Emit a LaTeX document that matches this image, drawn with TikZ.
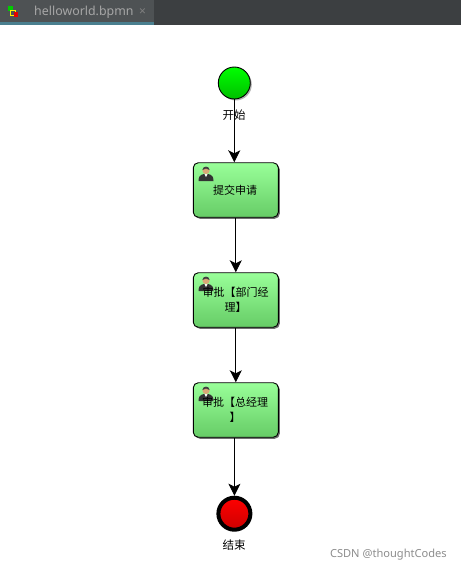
\documentclass[tikz,border=0pt]{standalone}
\usepackage{fontspec}
\setmainfont{Noto Sans CJK SC}
\newfontfamily\tabfont{Noto Sans}
\usetikzlibrary{positioning,arrows.meta,shadows}
\definecolor{tabdark}{HTML}{3C3F41}
\definecolor{tablight}{HTML}{4E5254}
\definecolor{tabline}{HTML}{4A7F8F}
\definecolor{tasktop}{HTML}{99FF99}
\definecolor{taskbot}{HTML}{66CC66}
\tikzset{
  flow/.style={draw=black,line width=0.9pt,-{Stealth[length=12pt,width=12pt,inset=3pt]}},
  taskbox/.style={draw=black,line width=0.9pt,rounded corners=5pt,minimum width=85pt,minimum height=54.5pt,
    top color=tasktop,bottom color=taskbot,inner sep=0pt,
    drop shadow={shadow xshift=1.5pt,shadow yshift=-1.5pt,fill=black!70,opacity=0.8}},
  tasklabel/.style={font=\fontsize{11}{15}\selectfont,align=center,inner sep=0pt},
  evlabel/.style={font=\fontsize{11.5}{13}\selectfont,inner sep=0pt},
}
\begin{document}
\begin{tikzpicture}[x=1pt,y=-1pt]
\useasboundingbox (0,0) rectangle (461,571);
% tab bar
\fill[tabdark] (0,0) rectangle (461,25);
\fill[tablight] (0,0) rectangle (154,22);
\fill[tabline] (0,22) rectangle (154,25);
\fill[green!80!black] (8,6) rectangle (13,11);
\draw[yellow,line width=0.8pt] (10.5,10) rectangle (15,15);
\fill[red!90!black] (14,12) rectangle (18,17);
\node[text=black!35,font=\tabfont\fontsize{12.4}{15}\selectfont,anchor=west,inner sep=0pt] (tabname) at (34,12) {helloworld.bpmn};
\node[text=black!50,font=\tabfont\fontsize{12}{14}\selectfont,inner sep=0pt] (tabclose) at (142.5,12) {×};
% events
\node[circle,draw=black,line width=0.9pt,minimum size=32pt,inner sep=0pt,top color=green,bottom color=green!75!black,
  drop shadow={shadow xshift=1.5pt,shadow yshift=-1.5pt,fill=black!60}] (start) at (234.3,83) {};
\node[circle,draw=black,line width=4pt,minimum size=32pt,inner sep=0pt,top color=red,bottom color=red!80!black] (end) at (234.4,513.7) {};
% tasks
\node[taskbox] (taskone) at (235.8,190) {};
\node[taskbox] (tasktwo) at (235.8,300) {};
\node[taskbox] (taskthree) at (235.8,410) {};
% user icons
\foreach \yy in {162,272,382}
  {\fill[black!80] (198.5,\yy+19) .. controls (198.5,\yy+12) and (203,\yy+12) .. (206,\yy+12)
     .. controls (209,\yy+12) and (213.5,\yy+12) .. (213.5,\yy+19) -- cycle;
   \fill[white] (204.5,\yy+12) -- (207.5,\yy+12) -- (206,\yy+15) -- cycle;
   \fill[orange!45!white!85!black] (206,\yy+8.5) circle (3.6);
   \fill[black!75] (202.4,\yy+8) .. controls (202.4,\yy+3.5) and (209.6,\yy+3.5) .. (209.6,\yy+8)
     .. controls (207,\yy+6) and (205,\yy+6) .. (202.4,\yy+8) -- cycle;}
% task texts
\node[tasklabel] (textone) at (235,190) {提交申请};
\node[tasklabel] (texttwo) at (235.5,300) {审批【部门经\\理】};
\node[tasklabel] (textthree) at (235,410) {审批【总经理\\】};
% event labels
\node[evlabel] (startlabel) at (234,115) {开始};
\node[evlabel] (endlabel) at (234,545) {结束};
% sequence flows
\draw[flow] (start) -- (start |- taskone.north);
\draw[flow] (taskone.south) -- (tasktwo.north);
\draw[flow] (tasktwo.south) -- (taskthree.north);
\draw[flow] (end |- taskthree.south) -- (end.north);
% watermark
\node[text=black!45,font=\tabfont\fontsize{11.1}{14}\selectfont,anchor=east,inner sep=0pt] (mark) at (447,555) {CSDN @thoughtCodes};
\end{tikzpicture}
\end{document}
